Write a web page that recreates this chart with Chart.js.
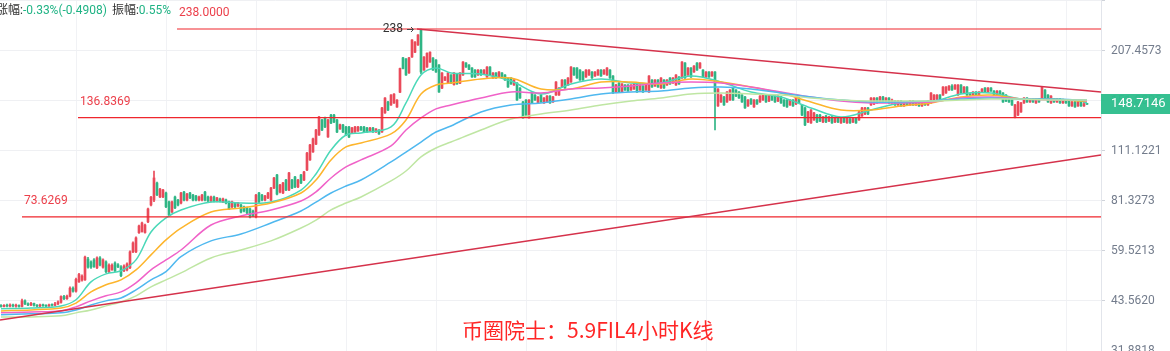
<!DOCTYPE html>
<html>
<head>
<meta charset="utf-8">
<script src="https://cdn.jsdelivr.net/npm/chart.js@4.4.1/dist/chart.umd.min.js"></script>
<style>
html,body{margin:0;padding:0;background:#fff;overflow:hidden;}
canvas{display:block;}
</style>
</head>
<body>
<canvas id="c" width="1170" height="351"></canvas>
<script>
// ---------- DATA (4h candles, index = candle number) ----------
const openP = [
42.3,42.1,42.4,42.2,42.5,42.2,42.3,42.1,43.6,42.8,
42.5,42.9,42.4,42.2,42.5,42.3,42.2,42.5,42.4,42.8,
43.2,44.8,44.2,44.9,47.2,46.3,49.1,49.6,49.7,56.6,
55.6,56.3,53.6,57.0,53.8,55.6,52.3,53.0,55.2,54.6,
53.9,52.6,52.9,53.6,59.2,59.2,66.7,67.2,66.8,71.4,
79.3,81.8,91.0,83.4,83.4,85.5,80.9,76.0,83.4,81.8,
80.3,86.0,81.8,85.5,84.4,83.9,81.8,81.8,86.0,83.4,
81.3,83.4,81.3,82.4,80.8,81.9,80.9,78.4,80.3,78.9,
79.3,78.4,77.9,77.4,76.4,73.6,85.5,84.4,81.8,82.9,
81.8,88.2,95.7,86.0,85.5,92.7,87.1,92.7,94.5,88.8,
95.7,92.7,98.7,105.1,110.5,116.0,122.8,134.9,136.8,121.3,
139.1,139.1,134.9,127.6,130.7,129.1,129.1,124.4,125.1,125.9,
129.1,129.1,128.3,125.9,128.3,125.1,126.7,125.1,141.0,150.9,
148.1,149.9,146.2,160.4,198.8,197.5,180.9,199.8,205.9,215.4,
236.5,184.2,187.7,193.7,198.6,196.1,190.1,164.6,172.8,169.7,
178.6,168.1,179.7,169.7,178.6,192.5,190.0,186.6,184.2,178.6,
184.2,179.7,176.4,187.7,175.3,180.9,176.4,180.9,178.6,175.3,
175.3,167.8,169.9,164.7,150.9,152.8,136.6,160.6,157.6,150.0,
157.6,150.0,150.9,156.6,150.9,157.6,157.6,165.7,173.1,167.8,
171.0,186.6,186.6,184.2,182.0,176.4,178.6,182.0,177.5,178.6,
184.2,179.7,178.6,184.2,177.5,160.6,169.9,160.6,167.8,167.8,
162.6,163.6,169.9,162.6,166.7,162.6,160.6,173.1,166.7,173.1,
164.7,173.1,167.8,175.3,169.9,167.8,176.4,175.3,192.5,178.6,
186.6,182.0,192.5,186.6,184.2,176.4,182.0,177.5,182.0,147.2,
150.9,155.7,150.9,152.8,164.7,162.6,160.6,157.6,155.7,147.2,
153.7,146.3,152.8,150.9,152.8,157.6,151.8,157.6,156.6,151.8,
155.7,152.8,152.8,148.1,152.8,149.0,154.7,148.1,145.4,133.2,
132.4,134.9,139.1,139.1,133.2,138.3,134.0,137.4,133.2,136.6,
132.4,136.6,132.4,135.7,133.2,136.6,134.9,138.3,140.0,145.4,
148.1,149.0,154.7,150.9,155.7,151.8,154.7,150.0,151.8,148.1,
151.8,147.2,150.9,148.1,151.8,148.1,150.9,147.2,150.9,148.1,
150.0,152.8,153.7,157.6,157.6,159.6,162.6,166.7,163.6,157.6,
167.8,159.6,165.7,158.6,157.6,160.6,157.6,160.6,164.7,160.6,
164.7,161.6,157.6,161.6,159.6,157.6,154.7,152.8,137.4,139.1,
141.8,150.0,154.7,150.9,153.7,150.0,153.7,154.7,162.6,157.6,
150.0,153.7,150.9,153.7,150.0,152.8,151.8,147.2,150.9,147.2,
150.9,147.2,149.2];
const highP = [
42.6,42.6,42.7,42.8,42.7,42.7,42.5,44.1,43.9,43.1,
43.2,43.0,42.6,42.7,42.7,42.5,42.7,42.8,43.2,43.6,
45.0,45.1,45.2,47.6,47.6,50.3,51.8,51.3,57.7,57.2,
56.0,56.8,57.4,57.5,56.7,56.0,54.9,54.9,55.6,55.0,
54.3,54.6,55.3,59.6,63.0,65.0,70.0,71.3,70.4,77.8,
83.7,98.1,91.5,88.0,87.5,86.0,81.3,81.3,83.8,82.2,
85.9,86.4,85.3,85.9,84.8,84.3,83.8,84.8,86.4,83.8,
83.8,83.8,83.2,82.8,82.8,82.3,81.3,81.3,80.7,80.7,
79.7,78.8,78.3,77.8,76.8,84.8,85.9,84.8,84.3,85.9,
88.6,94.3,96.1,90.3,91.4,93.1,97.3,93.1,94.9,93.1,
96.1,97.9,110.2,115.9,120.4,127.2,137.9,135.4,137.3,135.4,
139.6,139.6,135.4,131.5,131.2,129.6,129.6,128.8,129.6,129.6,
129.6,129.6,128.8,128.8,128.8,127.9,127.1,145.9,155.2,151.4,
158.1,159.0,153.2,186.5,199.3,198.0,199.3,222.7,219.9,229.8,
238.0,200.3,205.1,206.5,199.1,196.6,190.6,181.4,176.9,181.4,
179.1,181.4,180.2,181.4,194.2,193.0,190.5,187.1,184.7,184.7,
184.7,184.7,188.2,188.2,181.4,181.4,182.5,181.4,179.1,175.8,
175.8,173.6,170.4,165.2,151.4,153.3,153.2,161.1,158.1,156.1,
158.1,155.2,157.1,157.1,156.2,171.5,165.2,173.6,173.6,175.8,
188.2,187.1,187.1,184.7,182.5,184.7,184.7,182.5,182.5,184.7,
184.7,184.7,187.1,184.7,178.0,168.4,170.4,169.4,168.3,168.3,
168.3,169.4,170.4,168.3,167.2,169.4,178.0,173.6,173.6,173.6,
175.8,173.6,173.6,175.8,175.8,179.1,176.9,194.2,193.0,187.1,
187.1,189.4,193.0,193.0,184.7,182.5,182.5,182.5,182.5,164.1,
158.1,156.2,161.1,163.1,165.2,163.1,161.1,158.1,156.2,153.2,
154.2,153.2,153.3,157.1,158.1,158.1,158.1,158.1,157.1,157.1,
156.2,153.3,153.3,153.3,153.3,156.2,155.2,148.6,145.9,142.3,
144.0,141.4,139.6,139.6,137.9,138.8,137.9,137.9,137.1,137.1,
137.1,137.1,137.1,136.2,137.1,137.1,142.3,145.9,145.9,145.9,
155.2,155.2,155.2,156.2,156.2,155.2,155.2,153.7,152.3,152.3,
152.3,151.3,151.4,152.3,152.3,151.4,151.4,151.4,151.4,152.3,
160.1,158.1,158.1,158.1,166.2,166.2,167.2,168.3,168.3,168.3,
168.3,166.2,166.2,159.1,161.1,161.1,161.1,164.1,165.2,165.2,
165.2,162.1,162.1,162.1,160.1,158.1,155.2,153.3,148.6,151.4,
150.5,155.2,155.2,154.2,154.2,154.2,154.2,166.2,163.1,158.1,
157.1,154.2,154.2,154.2,153.7,153.3,152.3,151.4,151.4,151.4,
151.4,150.5,149.45];
const lowP = [
41.9,42.0,42.0,42.0,42.0,41.9,41.9,42.0,42.6,42.3,
42.3,42.2,42.0,42.0,42.1,42.0,42.1,42.2,42.3,42.6,
43.0,43.9,44.0,44.7,46.0,46.0,48.9,49.3,49.5,53.5,
53.4,53.7,53.3,54.2,53.5,52.0,52.0,52.7,52.3,53.6,
50.7,52.3,52.6,53.3,58.9,58.9,66.4,66.9,66.5,71.0,
78.9,81.0,84.1,83.0,83.0,78.0,74.1,75.6,77.5,78.9,
79.9,81.4,81.4,82.5,81.4,81.4,81.4,81.4,81.4,80.9,
80.9,80.9,80.9,80.9,80.5,79.9,77.0,78.0,78.0,78.5,
75.5,76.0,75.1,73.2,73.7,73.2,80.5,81.4,81.4,82.5,
81.4,87.8,84.5,85.6,85.1,86.7,86.7,87.8,88.4,88.4,
90.6,92.3,98.3,104.7,110.1,115.6,122.4,126.2,128.6,120.9,
131.8,132.7,124.6,127.2,124.6,122.3,120.8,124.0,124.7,125.5,
126.3,124.7,124.7,125.5,124.7,124.7,123.2,124.7,140.5,143.0,
147.7,149.5,145.8,160.0,185.5,178.1,180.4,199.3,205.4,214.9,
180.0,183.7,187.2,193.2,183.7,181.5,160.1,164.1,172.3,169.2,
169.2,167.6,168.5,169.2,178.1,187.2,184.5,175.9,175.9,178.1,
178.1,179.2,175.9,178.1,174.8,174.8,175.9,174.8,172.6,165.2,
168.4,167.3,152.3,154.2,136.3,138.6,136.3,149.5,152.3,149.5,
150.4,149.5,150.4,149.5,150.4,157.1,157.1,165.2,164.2,167.3,
170.5,178.1,174.8,172.6,172.6,175.9,178.1,174.8,177.0,178.1,
176.9,179.2,178.1,174.8,159.1,160.1,160.1,160.1,162.1,161.1,
162.1,163.1,160.1,162.1,160.1,162.1,160.1,165.2,166.2,165.2,
164.2,164.2,167.3,168.4,169.4,167.3,168.4,174.8,174.8,178.1,
175.9,181.5,183.7,186.1,175.9,175.9,175.9,177.0,126.7,146.7,
150.4,147.6,150.4,152.3,152.3,156.1,154.2,150.4,144.9,146.7,
148.6,145.8,148.6,150.4,152.3,150.4,151.3,152.3,150.4,151.3,
149.5,146.7,145.8,147.6,146.7,148.5,149.5,138.6,130.2,132.7,
131.9,134.4,132.7,133.5,132.7,132.7,133.5,131.9,132.7,132.7,
131.9,132.7,131.9,131.9,132.7,131.9,134.4,137.8,139.5,139.5,
147.6,148.5,149.5,150.4,150.4,151.3,149.5,149.5,147.6,147.6,
146.7,146.7,147.6,147.6,147.6,147.6,146.7,146.7,147.6,147.6,
149.5,152.3,153.2,153.2,157.1,159.1,162.1,162.1,163.1,157.1,
159.1,159.1,157.1,157.1,157.1,157.1,157.1,160.1,160.1,160.1,
161.1,157.1,157.1,157.1,150.4,151.3,150.4,147.6,136.6,138.6,
141.3,149.5,150.4,150.4,150.4,149.5,150.4,154.2,154.2,150.4,
149.5,150.4,150.4,149.5,149.5,149.5,146.7,146.7,145.8,146.7,
146.7,146.7,148.63];
const closeP = [
42.1,42.4,42.2,42.5,42.2,42.3,42.1,43.6,42.8,42.5,
42.9,42.4,42.2,42.5,42.3,42.2,42.5,42.4,42.8,43.3,
44.8,44.2,44.9,47.2,46.3,49.9,51.4,50.9,57.3,53.8,
53.8,54.0,57.0,54.5,56.3,52.3,54.5,54.5,52.6,53.9,
51.0,54.2,54.9,59.2,62.6,64.6,69.6,70.9,70.0,77.4,
83.3,93.9,84.5,87.6,87.1,78.4,74.5,80.9,77.9,79.3,
85.5,81.8,84.9,82.9,81.8,81.8,83.4,84.4,81.8,81.3,
83.4,81.3,82.9,81.3,82.4,80.3,77.4,80.9,78.4,80.3,
75.9,76.4,75.5,73.6,74.1,84.4,80.9,81.8,83.9,85.5,
88.2,93.9,84.9,89.9,91.0,87.1,96.9,88.2,88.8,92.7,
91.0,97.5,109.7,115.4,119.9,126.7,137.4,126.7,129.1,134.9,
132.3,133.2,125.1,131.0,125.1,122.8,121.3,128.3,129.1,129.1,
126.7,125.1,125.1,128.3,125.1,127.5,123.6,145.4,154.7,143.5,
157.6,158.5,152.7,186.0,186.0,178.6,198.8,222.2,219.4,229.3,
182.0,199.8,204.6,206.0,184.2,182.0,160.6,180.9,176.4,180.9,
169.7,180.9,169.0,180.9,193.7,187.7,185.0,176.4,176.4,184.2,
178.6,184.2,187.7,178.6,180.9,175.3,182.0,175.3,173.1,165.7,
168.9,173.1,152.8,154.7,136.6,139.1,152.8,150.0,152.8,155.7,
150.9,154.7,156.6,150.0,155.7,171.0,164.7,173.1,164.7,175.3,
187.7,178.6,175.3,173.1,173.1,184.2,184.2,175.3,182.0,184.2,
177.5,184.2,186.6,175.3,159.6,167.8,160.6,168.9,162.6,161.6,
167.8,168.9,160.6,167.8,160.6,168.9,177.5,165.7,173.1,165.7,
175.3,164.7,173.1,168.9,175.3,178.6,168.9,193.7,175.3,186.6,
176.4,188.9,184.2,192.5,176.4,182.0,176.4,182.0,160.6,163.6,
157.6,148.1,160.6,162.6,152.8,156.6,154.7,150.9,145.4,152.8,
149.0,152.8,149.0,156.6,157.6,150.9,157.6,152.8,150.9,156.6,
150.0,147.2,146.3,152.8,147.2,155.7,150.0,139.1,130.7,141.8,
143.5,140.9,133.2,134.0,137.4,133.2,137.4,132.4,136.6,133.2,
136.6,133.2,136.6,132.4,136.6,132.4,141.8,145.4,145.4,140.0,
154.7,154.7,150.0,155.7,150.9,154.7,150.0,152.8,148.1,151.8,
147.2,150.9,148.1,151.8,148.1,150.9,147.2,150.9,148.1,151.8,
159.6,157.6,157.6,153.7,165.7,165.7,166.7,162.6,167.8,167.8,
159.6,165.7,157.6,157.6,160.6,157.6,160.6,163.6,160.6,164.7,
161.6,157.6,161.6,157.6,150.9,151.8,150.9,148.1,148.1,150.9,
150.0,154.7,150.9,153.7,150.9,153.7,150.9,165.7,154.7,150.9,
156.6,150.9,153.7,150.0,152.8,150.0,147.2,150.9,146.3,150.9,
147.2,149.2,148.7146];

// moving-average lines, read at these candle indices
const maIdx = [0,10,20,25,30,35,40,45,50,55,60,70,80,90,100,105,110,115,120,130,135,140,145,150,
  160,170,180,190,200,210,220,230,240,250,260,270,280,290,300,310,320,330,340,350,360,362];
const maTeal = [41.5,41.7,42.25,43.9,49.1,51.6,52.6,56.3,67.0,73.2,76.9,80.8,80.3,80.8,87.1,96.3,111.8,122.8,124.4,129.1,150.0,178.6,186.6,180.9,
  179.7,172.0,158.6,168.9,174.2,169.9,169.9,177.5,171.0,160.6,155.7,145.4,137.4,143.5,150.0,150.9,158.6,159.6,153.7,153.7,151.8,150.0];
const maOrange = [40.95,41.2,41.7,43.0,46.1,48.2,49.7,52.9,58.1,63.8,68.7,75.9,77.9,80.3,85.5,92.7,105.1,114.0,116.8,123.6,134.9,158.6,167.8,169.9,
  174.2,175.3,163.6,163.6,171.0,171.0,168.9,174.2,171.0,165.7,159.6,150.9,143.5,143.5,147.2,150.0,155.7,157.6,153.7,153.7,151.8,151.8];
const maPink = [40.45,40.7,40.95,42.0,43.6,45.0,46.1,48.8,52.9,56.3,59.9,70.0,74.1,76.9,81.35,86.1,93.9,100.6,105.1,114.7,126.7,136.6,144.5,148.1,
  154.7,160.6,159.6,163.6,164.7,166.7,169.9,171.0,169.9,165.7,160.6,155.7,151.8,150.0,150.0,150.9,154.7,155.7,153.7,152.8,152.8,151.8];
const maBlue = [39.95,40.2,40.45,41.2,42.5,43.6,44.4,46.7,49.7,52.3,57.5,63.4,66.2,70.9,76.4,80.8,85.5,89.3,92.7,103.8,110.4,117.5,125.1,129.9,
  141.8,148.1,150.0,153.7,158.6,160.6,161.6,164.7,165.7,163.6,159.6,155.7,152.8,150.9,150.9,151.8,153.7,154.7,153.7,153.7,152.8,152.8];
const maGreen = [39.45,39.45,39.7,40.45,41.2,42.25,43.3,45.0,47.6,49.7,51.9,57.0,59.9,63.4,68.7,72.2,76.9,80.3,83.4,92.2,98.1,107.1,113.2,117.5,
  126.7,135.7,140.0,143.5,148.1,151.8,154.7,158.6,159.6,158.6,157.6,154.7,152.8,151.8,151.8,151.8,152.8,153.7,153.7,152.8,152.8,152.8];

// horizontal price levels and where (candle index) each starts
const levels = [238.0, 136.8369, 73.6269];
const levelStart = [58.67, 25.67, 7];
// trend lines [candle index, price]
const trendTop = [[138.67, 238.0], [366.67, 160.6]];
const trendBottom = [[-0.33, 38.7], [366.67, 108.4]];

// price axis tick values
const yTicks = [31.8818, 43.5620, 59.5213, 81.3273, 111.1221, 151.8305, 207.4573, 283.4600];
const yMin = 31.8818, yMax = 285.23;

// header figures
const changePct = '-0.33%', changeAbs = '-0.4908', amplitude = '0.55%';
const titleText = '币圈院士：5.9FIL4小时K线';

// ---------- BUILD ----------
const N = closeP.length;
const idx = Array.from({length: N}, (_, i) => i);
const UP = '#ea4a5a', DOWN = '#2fb585';
const candleColors = idx.map(i => closeP[i] >= openP[i] ? UP : DOWN);
const maData = arr => arr.map((v, k) => ({x: maIdx[k], y: v}));
const peakIdx = highP.indexOf(Math.max(...highP));
const lastPrice = closeP[N - 1];

const maStyle = (color) => ({type: 'line', borderColor: color, borderWidth: 1.5, pointRadius: 0,
  tension: 0.35, fill: false, order: 2});

const datasets = [
  {type: 'bar', data: idx.map(i => ({x: i, y: [lowP[i], highP[i]]})), backgroundColor: candleColors,
   barThickness: 1, grouped: false, order: 5, minBarLength: 1},
  {type: 'bar', data: idx.map(i => ({x: i, y: [openP[i], closeP[i]]})), backgroundColor: candleColors,
   barThickness: 2, grouped: false, order: 4, minBarLength: 1},
  Object.assign({data: maData(maGreen)}, maStyle('#bfe6a3')),
  Object.assign({data: maData(maBlue)}, maStyle('#4fb8ef')),
  Object.assign({data: maData(maPink)}, maStyle('#f062c8')),
  Object.assign({data: maData(maOrange)}, maStyle('#fdb52c')),
  Object.assign({data: maData(maTeal)}, maStyle('#4ad8b8')),
  {type: 'line', data: trendTop.map(p => ({x: p[0], y: p[1]})), borderColor: '#d5324b', borderWidth: 1.6, pointRadius: 0, order: 1},
  {type: 'line', data: trendBottom.map(p => ({x: p[0], y: p[1]})), borderColor: '#d5324b', borderWidth: 1.6, pointRadius: 0, order: 1},
];
levels.forEach((v, k) => datasets.push({type: 'line', data: [{x: levelStart[k], y: v}, {x: 366.67, y: v}],
  borderColor: '#ef262d', borderWidth: 1.2, pointRadius: 0, order: 1}));

const overlay = {
  id: 'overlay',
  afterDraw(chart) {
    const {ctx, chartArea} = chart;
    const xs = chart.scales.x, ys = chart.scales.y;
    ctx.save();
    ctx.textBaseline = 'middle';
    ctx.textAlign = 'left';
    // level labels
    ctx.font = '12px Roboto, sans-serif';
    ctx.fillStyle = '#ec3f4a';
    levels.forEach((v, k) => {
      ctx.fillText(v.toFixed(4), xs.getPixelForValue(levelStart[k]) + 2, ys.getPixelForValue(v) - 16);
    });
    // peak annotation
    const px = xs.getPixelForValue(peakIdx), py = ys.getPixelForValue(highP[peakIdx]);
    ctx.fillStyle = '#333';
    ctx.textAlign = 'right';
    ctx.fillText(String(Math.round(highP[peakIdx])), px - 18, py);
    ctx.strokeStyle = '#444'; ctx.lineWidth = 1;
    ctx.beginPath(); ctx.moveTo(px - 14, py + 0.5); ctx.lineTo(px - 8, py + 0.5); ctx.stroke();
    ctx.beginPath(); ctx.moveTo(px - 10, py - 2); ctx.lineTo(px - 7.5, py + 0.5); ctx.lineTo(px - 10, py + 3); ctx.stroke();
    // current price box
    const cy = ys.getPixelForValue(lastPrice);
    ctx.fillStyle = 'rgba(46,189,140,0.96)';
    ctx.fillRect(chartArea.right, Math.round(cy) - 10, chart.width - chartArea.right, 20);
    ctx.fillStyle = '#fff';
    ctx.textAlign = 'left';
    ctx.font = '13px Roboto, sans-serif';
    ctx.fillText(lastPrice.toFixed(4), chartArea.right + 10, Math.round(cy));
    // header
    ctx.font = "12px Roboto, 'Noto Sans CJK SC', sans-serif";
    let hx = -4;
    const seg = (t, c) => { ctx.fillStyle = c; ctx.fillText(t, hx, 11); hx += ctx.measureText(t).width; };
    seg('涨幅:', '#333'); seg(changePct + '(' + changeAbs + ')', '#1fb384'); hx += 5;
    seg('振幅:', '#333'); seg(amplitude, '#1fb384');
    // title
    ctx.font = "21px 'Noto Sans CJK SC', sans-serif";
    ctx.fillStyle = '#ff2626';
    ctx.fillText(titleText, 462, 330);
    ctx.restore();
  }
};

new Chart(document.getElementById('c'), {
  type: 'bar',
  data: {datasets},
  options: {
    responsive: false,
    animation: false,
    devicePixelRatio: 1,
    layout: {padding: 0},
    plugins: {legend: {display: false}, tooltip: {enabled: false}},
    scales: {
      x: {
        type: 'linear', min: -0.333, max: 366.667, offset: false,
        grid: {color: '#f1f2f5', drawTicks: false, offset: false},
        border: {display: false},
        ticks: {display: false},
        afterBuildTicks: s => { const t = []; for (let v = 25.333; v <= s.max; v += 30) t.push({value: v}); s.ticks = t; },
        afterFit: s => { s.height = 0; s.paddingLeft = 0; s.paddingRight = 0; }
      },
      y: {
        type: 'logarithmic', position: 'right', min: yMin, max: yMax, bounds: 'data',
        grid: {color: '#eff0f3', tickColor: '#cfd3da', tickLength: 4},
        border: {color: '#e2e5eb'},
        ticks: {autoSkip: false, padding: 6, color: '#737c8c', font: {family: 'Roboto', size: 12},
          callback: v => v > 250 ? '' : Number(v).toFixed(4)},
        afterBuildTicks: s => { s.ticks = yTicks.map(v => ({value: v})); },
        afterFit: s => { s.width = 69; s.paddingTop = 0; s.paddingBottom = 0; }
      }
    }
  },
  plugins: [overlay]
});
</script>
</body>
</html>
